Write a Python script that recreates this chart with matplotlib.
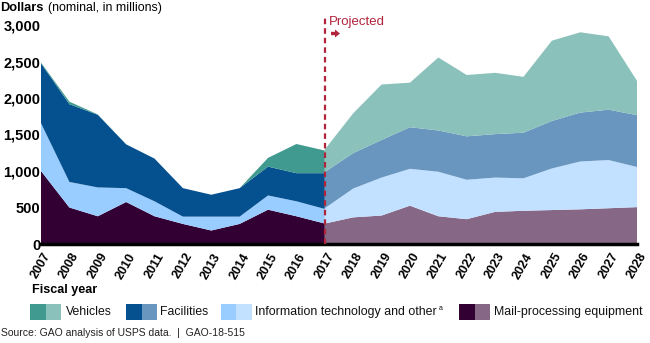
#! /usr/bin/env python3
import numpy as np
import matplotlib
matplotlib.use("Agg")
import matplotlib.pyplot as plt
from matplotlib.patches import Rectangle, Polygon

plt.rcParams["font.family"] = ["Liberation Sans", "DejaVu Sans"]

### data (millions of dollars)
YEARS_HIST = list(range(2007, 2018))
MAIL_HIST = [1000, 500, 380, 575, 380, 275, 185, 275, 470, 380, 280]
IT_HIST = [655, 350, 395, 190, 205, 100, 190, 100, 195, 205, 200]
FAC_HIST = [820, 1065, 995, 600, 585, 390, 300, 390, 395, 385, 490]
VEH_HIST = [10, 35, 5, 0, 0, 0, 0, 0, 120, 400, 310]

YEARS_PROJ = list(range(2017, 2029))
MAIL_PROJ = [280, 365, 390, 525, 380, 340, 440, 455, 465, 475, 490, 505]
IT_PROJ = [210, 395, 520, 505, 610, 540, 470, 445, 570, 655, 660, 550]
FAC_PROJ = [495, 485, 515, 570, 565, 595, 595, 625, 650, 670, 690, 710]
VEH_PROJ = [310, 545, 760, 610, 1000, 840, 840, 765, 1100, 1100, 1005, 470]

YEAR_LABELS = [str(y) for y in range(2007, 2029)]
Y_TICKS = list(range(0, 3001, 500))
LEGEND_NAMES = ["Vehicles", "Facilities", "Information technology and other",
                "Mail-processing equipment"]

COL_HIST = ["#330033", "#99ccff", "#05508f", "#409a8f"]
COL_PROJ = ["#866785", "#c2e0ff", "#6896be", "#8ac1bb"]
RED = "#b0243c"

W, H = 650, 343
fig = plt.figure(figsize=(6.5, 3.43), dpi=100)
ax = fig.add_axes([41/W, 1-244/H, 596/W, 219/H])


def fit_text(x, y, s, width, **kw):
    # text at pixel (x, y from top), font size scaled to a pixel width
    t = fig.text(x/W, 1-y/H, s, fontsize=10, va="center", **kw)
    bb = t.get_window_extent(renderer=fig.canvas.get_renderer())
    t.set_fontsize(10*width/bb.width)
    return t


ax.stackplot(YEARS_HIST, MAIL_HIST, IT_HIST, FAC_HIST, VEH_HIST,
             colors=COL_HIST, linewidth=0)
ax.stackplot(YEARS_PROJ, MAIL_PROJ, IT_PROJ, FAC_PROJ, VEH_PROJ,
             colors=COL_PROJ, linewidth=0)

ax.set_xlim(2007, 2028)
ax.set_ylim(0, 3000)
for s in ax.spines.values():
    s.set_visible(False)
ax.axhline(0, color="black", linewidth=2.5, clip_on=False, zorder=5)
ax.axvline(2017, ymin=0, ymax=1.03, color=RED, linestyle=(0, (2.5, 1.8)),
           linewidth=1.6, clip_on=False, zorder=6)

ax.set_yticks(Y_TICKS)
ax.set_yticklabels([f"{v:,}" for v in Y_TICKS], fontsize=10.5, fontweight="bold")
ax.set_xticks(range(2007, 2029))
ax.set_xticklabels(YEAR_LABELS, rotation=60, ha="center", va="top",
                   fontsize=9, fontweight="bold")
ax.tick_params(length=0)
ax.tick_params(axis="y", pad=0.5)
ax.tick_params(axis="x", pad=5)

### projected label + arrow
ax.text(2017.15, 3045, "Projected", color=RED, fontsize=9.5, va="center")
arrow = [(331, 31.8), (335, 31.8), (335, 29.5), (340, 33.5), (335, 37.5), (335, 35.2), (331, 35.2)]
fig.add_artist(Polygon([(x/W, 1-y/H) for x, y in arrow], closed=True,
                       transform=fig.transFigure, facecolor=RED, edgecolor="none"))

### titles
fit_text(0, 8, "Dollars", 43, fontweight="bold")
fit_text(48, 8, "(nominal, in millions)", 113)
fit_text(32, 290, "Fiscal year", 65, fontweight="bold")
fit_text(1, 333, "Source: GAO analysis of USPS data.  |  GAO-18-515", 244,
         color="#222222")

### legend (two-tone swatch: actual | projected)
sw_x = [30, 126, 221, 459]
tx_x = [66, 160, 255, 494]
tx_w = [46, 48, 183, 149]
order = [3, 2, 1, 0]
for sx, tx, wd, name, k in zip(sw_x, tx_x, tx_w, LEGEND_NAMES, order):
    fig.add_artist(Rectangle((sx/W, 1-320/H), 15.5/W, 16/H, transform=fig.transFigure,
                             facecolor=COL_HIST[k], edgecolor="none"))
    fig.add_artist(Rectangle(((sx+15.5)/W, 1-320/H), 15.5/W, 16/H, transform=fig.transFigure,
                             facecolor=COL_PROJ[k], edgecolor="none"))
    fit_text(tx, 312, name, wd, color="#111111")
    if k == 1:
        fig.text((tx+wd+1)/W, 1-308/H, "a", fontsize=5, va="center",
                 color="#111111")

fig.savefig("out.png", dpi=100)
